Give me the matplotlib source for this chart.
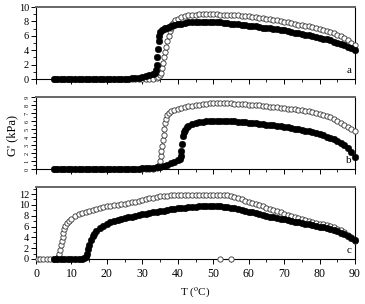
import numpy as np
import matplotlib
matplotlib.use("Agg")
import matplotlib.pyplot as plt
from matplotlib.ticker import MultipleLocator

plt.rcParams['font.family'] = ['Liberation Serif', 'DejaVu Serif']
plt.rcParams['mathtext.fontset'] = 'stix'

# ---------------- data (T in degC, G' in kPa) ----------------
# panel a
a_fill_T = list(range(5, 34)) + [33.5, 33.8, 34.0, 34.2, 34.4, 34.6, 34.8, 35.1, 35.5, 36, 36.5, 37, 37.5, 38] + list(range(39, 91))
a_fill_G = ([0.05] * 22 + [0.1, 0.15, 0.2, 0.25, 0.35, 0.5, 0.7]
            + [0.9, 1.3, 2.0, 3.0, 4.2, 5.3, 6.0, 6.5, 6.8, 7.0, 7.05, 7.1, 7.2, 7.3]
            + [7.45, 7.6, 7.7, 7.8, 7.85, 7.9, 7.95, 7.95, 7.95, 7.95, 7.9, 7.9, 7.85, 7.85,
               7.8, 7.75, 7.7, 7.65, 7.6, 7.5, 7.45, 7.4, 7.35, 7.3, 7.25, 7.15, 7.1, 7.05,
               7.0, 6.95, 6.85, 6.75, 6.65, 6.55, 6.45, 6.35, 6.25, 6.15, 6.05, 5.95, 5.85,
               5.75, 5.6, 5.5, 5.35, 5.2, 5.05, 4.9, 4.7, 4.5, 4.25, 4.0])
a_open_T = list(range(5, 35)) + [34.5, 35, 35.3, 35.6, 35.9, 36.2, 36.5, 36.8, 37.1, 37.4, 37.7, 38.0, 38.4, 38.8, 39.3] + list(range(40, 91))
a_open_G = ([0.05] * 29 + [0.1]
            + [0.25, 0.5, 0.9, 1.5, 2.2, 3.0, 3.8, 4.5, 5.3, 6.0, 6.6, 7.1, 7.6, 7.9, 8.15]
            + [8.4, 8.6, 8.75, 8.85, 8.9, 8.95, 9.0, 9.0, 9.0, 9.0, 9.0, 9.0, 8.95, 8.95,
               8.9, 8.9, 8.85, 8.85, 8.8, 8.75, 8.7, 8.65, 8.6, 8.5, 8.45, 8.4, 8.3, 8.25,
               8.15, 8.05, 7.95, 7.85, 7.75, 7.65, 7.55, 7.5, 7.4, 7.3, 7.2, 7.1, 7.0, 6.85,
               6.7, 6.55, 6.35, 6.15, 5.95, 5.7, 5.4, 5.05, 4.7])

# panel b
b_fill_T = list(range(5, 41)) + [40.5, 40.8, 41.0, 41.2, 41.4, 41.7, 42, 42.5, 43] + list(range(44, 91))
b_fill_G = ([0.05] * 25 + [0.08, 0.1, 0.12, 0.15, 0.2, 0.3, 0.4, 0.55, 0.7, 0.9, 1.1]
            + [1.3, 1.6, 2.2, 3.1, 4.1, 4.6, 4.9, 5.2, 5.4]
            + [5.6, 5.75, 5.85, 5.9, 5.95, 6.0, 6.0, 6.0, 6.0, 6.0, 5.95, 5.95, 5.95, 5.9,
               5.9, 5.85, 5.8, 5.75, 5.7, 5.65, 5.6, 5.55, 5.5, 5.45, 5.4, 5.35, 5.25, 5.2,
               5.1, 5.05, 4.95, 4.85, 4.75, 4.7, 4.6, 4.5, 4.35, 4.2, 4.05, 3.9, 3.7, 3.5,
               3.25, 3.0, 2.6, 2.1, 1.5])
b_open_T = list(range(5, 35)) + [34.5, 34.8, 35.0, 35.2, 35.4, 35.6, 35.8, 36.0, 36.2, 36.4, 36.7, 37.0, 37.4] + list(range(38, 91))
b_open_G = ([0.05] * 29 + [0.1]
            + [0.2, 0.5, 1.0, 1.6, 2.2, 2.9, 3.6, 4.3, 5.0, 5.7, 6.3, 6.7, 7.0]
            + [7.2, 7.4, 7.55, 7.65, 7.75, 7.85, 7.9, 8.0, 8.05, 8.1, 8.15, 8.2, 8.2, 8.2,
               8.2, 8.2, 8.2, 8.2, 8.15, 8.15, 8.1, 8.1, 8.05, 8.0, 8.0, 7.95, 7.9, 7.85,
               7.8, 7.75, 7.7, 7.65, 7.6, 7.55, 7.5, 7.45, 7.4, 7.35, 7.3, 7.2, 7.1, 7.0,
               6.9, 6.8, 6.6, 6.45, 6.25, 6.05, 5.8, 5.55, 5.3, 5.0, 4.7])

# panel c
c_fill_T = list(range(5, 14)) + [13.5, 14, 14.3, 14.6, 15, 15.5, 16, 16.5, 17] + list(range(18, 91))
c_fill_G = ([0.05] * 9 + [0.1, 0.3, 1.0, 1.8, 2.6, 3.5, 4.2, 4.7, 5.1]
            + [5.7, 6.1, 6.45, 6.75, 7.0, 7.2, 7.4, 7.55, 7.7, 7.85, 8.0, 8.1, 8.25, 8.35,
               8.5, 8.6, 8.75, 8.85, 8.95, 9.05, 9.15, 9.25, 9.35, 9.45, 9.5, 9.55, 9.6, 9.65,
               9.7, 9.7, 9.75, 9.75, 9.75, 9.7, 9.7, 9.65, 9.55, 9.45, 9.35, 9.2, 9.05, 8.9,
               8.75, 8.6, 8.45, 8.3, 8.15, 8.0, 7.85, 7.7, 7.55, 7.4, 7.3, 7.15, 7.0, 6.9,
               6.75, 6.65, 6.5, 6.4, 6.25, 6.15, 6.0, 5.85, 5.7, 5.5, 5.3, 5.1, 4.85, 4.6,
               4.3, 3.9, 3.5])
c_open_T = [0.6] + list(range(1, 7)) + [6.3, 6.6, 6.9, 7.1, 7.3, 7.5, 7.7, 8.0, 8.3, 8.7, 9.2] + list(range(10, 91))
c_open_G = ([0.05] * 7
            + [0.3, 0.9, 1.7, 2.5, 3.3, 4.1, 4.8, 5.5, 6.1, 6.6, 7.0]
            + [7.45, 7.9, 8.25, 8.5, 8.75, 8.95, 9.1, 9.3, 9.45, 9.6, 9.7, 9.8, 9.9, 10.0,
               10.1, 10.2, 10.3, 10.45, 10.6, 10.75, 10.9, 11.05, 11.2, 11.35, 11.45, 11.55,
               11.65, 11.7, 11.75, 11.8, 11.8, 11.85, 11.85, 11.85, 11.85, 11.85, 11.85,
               11.85, 11.85, 11.85, 11.85, 11.8, 11.8, 11.8, 11.75, 11.65, 11.45, 11.25,
               11.0, 10.8, 10.55, 10.35, 10.1, 9.9, 9.7, 9.45, 9.25, 9.05, 8.8, 8.6, 8.4,
               8.2, 8.0, 7.8, 7.65, 7.45, 7.25, 7.05, 6.9, 6.7, 6.55, 6.4, 6.25, 6.05, 5.85,
               5.6, 5.3, 4.95, 4.5, 4.0, 3.3])
c_out_T = [52, 55]
c_out_G = [0.0, 0.0]

panels = [
    dict(fill=(a_fill_T, a_fill_G), open=(a_open_T, a_open_G), ylim=(0, 10), major=2, minor=1, label='a'),
    dict(fill=(b_fill_T, b_fill_G), open=(b_open_T, b_open_G), ylim=(0, 9), major=1, minor=0.5, label='b'),
    dict(fill=(c_fill_T, c_fill_G), open=(c_open_T, c_open_G), ylim=(0, 13.3), major=2, minor=1, label='c'),
]

fig = plt.figure(figsize=(3.65, 3.04), dpi=100)
left = 36 / 365
width = (355 - 36) / 365
tops = [7, 97, 187]
bots = [79, 169, 259]

OPEN = dict(marker='o', ms=3.8, mfc='white', mec='#333333', mew=0.6, clip_on=False)

for i, p in enumerate(panels):
    b = 1 - bots[i] / 304
    h = (bots[i] - tops[i]) / 304
    ax = fig.add_axes([left, b, width, h])
    # open symbols, drawn densely (thin trace behind to join the overlapping circles)
    ax.plot(p['open'][0], p['open'][1], '-', color='#555555', lw=0.6, clip_on=False, zorder=2)
    ax.plot(p['open'][0], p['open'][1], ls='none', zorder=3, **OPEN)
    ax.plot(p['fill'][0], p['fill'][1], 'o', ms=4.8, mfc='black', mec='black', mew=0.3,
            clip_on=False, zorder=4)
    if i == 2:
        ax.plot(c_out_T, c_out_G, ls='none', zorder=3, **OPEN)
    ax.set_xlim(0, 90)
    ax.set_ylim(*p['ylim'])
    ax.xaxis.set_major_locator(MultipleLocator(10))
    ax.xaxis.set_minor_locator(MultipleLocator(5))
    ax.yaxis.set_major_locator(MultipleLocator(p['major']))
    ax.yaxis.set_minor_locator(MultipleLocator(p['minor']))
    ax.tick_params(which='major', direction='out', length=3.5, width=0.7, top=False, right=False)
    ax.tick_params(which='minor', direction='out', length=2.2, width=0.6, top=False, right=False)
    if i == 1:
        ax.tick_params(axis='y', which='major', labelsize=4.5, pad=1, labelrotation=90)
        for t in ax.get_yticklabels():
            t.set_va('center')
    else:
        ax.tick_params(axis='y', which='major', labelsize=7.5, pad=1.5)
    if i < 2:
        ax.tick_params(axis='x', labelbottom=False)
    else:
        ax.tick_params(axis='x', which='major', labelsize=8.5, pad=3)
    for s in ['left', 'bottom', 'right']:
        ax.spines[s].set_linewidth(0.8)
        ax.spines[s].set_color('black')
    ax.spines['top'].set_linewidth(1.4)
    ax.spines['top'].set_color('#666666')
    ax.text(0.988, 0.05, p['label'], transform=ax.transAxes, ha='right', va='bottom', fontsize=8)

fig.text(0.033, 1 - 135 / 304, "G' (kPa)", rotation=90, ha='center', va='center', fontsize=9)
fig.text(195 / 365, 1 - 292 / 304, r"T ($^{\rm o}$C)", ha='center', va='center', fontsize=8)

fig.savefig('out.png', dpi=100)
